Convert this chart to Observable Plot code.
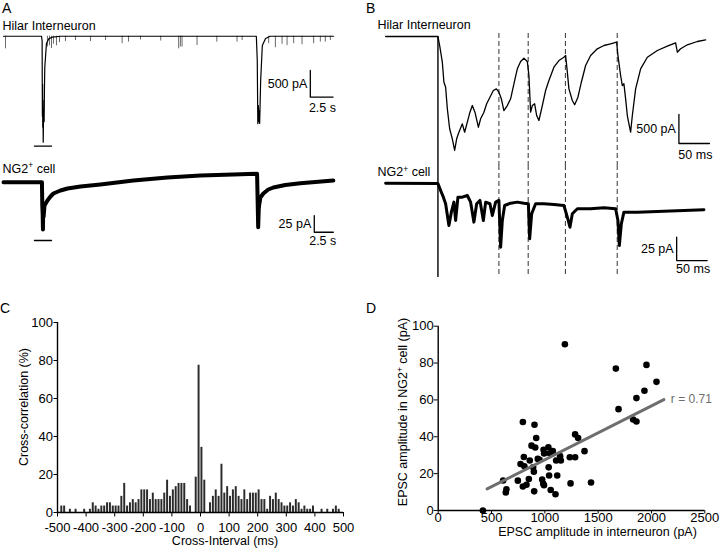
<!DOCTYPE html>
<html><head><meta charset="utf-8">
<script src="https://cdn.jsdelivr.net/npm/d3@7"></script>
<script src="https://cdn.jsdelivr.net/npm/@observablehq/plot@0.6"></script>
<style>
body{margin:0;background:#fff;}
#fig{position:relative;width:720px;height:548px;overflow:hidden;font-family:"Liberation Sans",Arial,Helvetica,sans-serif;color:#000;background:#fff;}
.t{position:absolute;white-space:nowrap;line-height:1;}
sup{font-size:0.68em;vertical-align:baseline;position:relative;top:-0.5em;}
</style></head><body><div id="fig"></div>
<script>
// ---------------- DATA ----------------
// Panel A: hilar interneuron trace [time s, current pA]
const aHilarTrace = [[0,0],[4.13,0],[4.2,-80],[4.23,-1500],[4.25,-900],[4.27,-1704],[4.29,-1200],[4.32,-1985],[4.35,-1550],[4.38,-1392],[4.42,-1600],[4.46,-900],[4.49,-581],[4.67,-142],[4.92,-49],[5.33,-15],[6.2,0],[27.5,0],[27.6,-455],[27.66,-1640],[27.72,-1300],[27.78,-1600],[27.82,-1392],[27.86,-1635],[27.97,-830],[28.15,-174],[28.5,-43],[29.0,0],[35.9,0]];
// spontaneous events on the hilar trace [time s, peak pA]
const aHilarEvents = [[0.22,-236],[4.78,-200],[5.0,-180],[5.22,-230],[5.43,-150],[5.76,-180],[6.09,-120],[6.74,-100],[7.83,-80],[9.46,-100],[11.1,-80],[12.9,-140],[13.6,-110],[14.9,-70],[17.1,-90],[19.05,-236],[19.24,-200],[19.42,-205],[21.05,-175],[23.2,-110],[25.4,-110],[25.95,-80],[28.84,-140],[29.57,-215],[30.3,-150],[30.84,-175],[31.56,-140],[32.47,-160],[33.73,-140],[34.46,-110],[35.0,-110],[35.55,-80]];
// Panel A: NG2+ cell trace [time s, current pA]
const aNG2Trace = [[0,0],[4.18,0],[4.22,-34.9],[4.26,-48],[4.29,-70.8],[4.31,-46.9],[4.36,-52],[4.46,-34.9],[4.78,-27.4],[5.11,-21.4],[5.43,-16.9],[6.2,-12.4],[6.96,-9.4],[8.37,-6.4],[10.54,-3.4],[14.13,2.5],[17.83,7.0],[21.41,10.0],[25.0,11.5],[27.58,12.6],[27.64,-27.4],[27.7,-67.4],[27.76,-40],[27.8,-34.9],[27.94,-22.9],[28.26,-16.9],[28.8,-10.9],[29.35,-7.9],[30.65,-4.2],[32.28,-1.5],[35.87,2.5]];
const aStimBar = [3.37, 5.22];          // s, bar under first event
const aScale = {pA_top: 500, pA_bottom: 25, s: 2.5};

// Panel B: hilar interneuron trace [time ms, current pA]
const bHilarTrace = [[-85.8,0],[0,0],[2.8,-155],[7.2,-443],[9.8,-788],[12.6,-874],[15.4,-1246],[19.2,-1591],[23.6,-1764],[27.4,-1965],[30.7,-1764],[34.4,-1650],[40.0,-1505],[43.8,-1650],[48.2,-1477],[52.5,-1305],[56.4,-1190],[60.7,-1305],[66.3,-1564],[70.0,-1419],[75.4,-1305],[79.9,-1160],[85.3,-1046],[90.9,-931],[95.8,-902],[100.0,-960],[104.0,-1074],[108.2,-1276],[113.8,-1190],[119.2,-1074],[124.6,-815],[130.2,-557],[135.6,-431],[141.0,-374],[146.6,-431],[149.2,-672],[152.0,-1305],[154.8,-1190],[158.6,-1160],[161.9,-1362],[165.6,-1448],[171.2,-1190],[176.6,-931],[182.0,-759],[190.2,-529],[198.4,-414],[206.6,-357],[209.4,-328],[212.2,-615],[214.8,-902],[220.4,-1103],[224.2,-1177],[229.6,-1046],[235.2,-788],[242.2,-500],[250.4,-328],[261.4,-212],[272.2,-155],[283.2,-126],[293.1,-98],[295.2,-328],[299.6,-672],[302.4,-845],[305.0,-815],[307.8,-1074],[310.6,-1362],[313.2,-1505],[316.0,-1650],[318.8,-1362],[324.2,-902],[332.4,-557],[343.4,-357],[359.8,-241],[376.2,-167],[389.8,-109],[392.6,-271],[398.0,-212],[409.0,-143],[425.4,-86],[439.0,-57]];
// Panel B: NG2+ cell trace [time ms, current pA]
const bNG2Trace = [[-85.8,0],[0,-0.3],[4.4,-7.8],[8.9,-15.0],[12.6,-22.0],[18.0,-45.3],[22.0,-31.0],[26.2,-20.3],[29.0,-39.9],[32.8,-15.0],[40.0,-15.0],[48.2,-13.2],[53.6,-20.3],[59.0,-41.7],[63.5,-22.0],[68.9,-18.5],[74.5,-39.9],[78.2,-20.3],[85.3,-22.0],[89.2,-34.6],[94.6,-20.3],[100.0,-18.5],[102.8,-68.5],[105.6,-39.9],[109.4,-23.9],[119.2,-21.4],[130.2,-20.3],[141.0,-21.4],[148.3,-22.0],[150.4,-59.5],[153.7,-32.7],[160.2,-22.0],[173.8,-22.0],[190.2,-22.8],[206.6,-23.9],[212.2,-36.4],[216.5,-47.1],[220.4,-32.7],[228.6,-27.4],[250.4,-27.4],[272.2,-26.3],[291.4,-27.4],[295.2,-39.9],[297.5,-66.7],[300.8,-43.4],[305.0,-31.0],[327.0,-31.0],[370.6,-30.0],[403.4,-29.2],[436.2,-28.5]];
const bMarkers = [100, 148, 209, 294];   // ms, dashed lines
const bScale = {pA_top: 500, pA_bottom: 25, ms: 50};

// Panel C: cross-correlogram, 10 ms bins from -500 to 500 (%)
const ccStart = -500, ccBinWidth = 10;
const ccValues = [0,3.4,3.4,0,1.7,0,1.7,0,0,1.7, 0,1.7,5.1,3.4,1.7,3.4,3.4,5.1,5.1,3.4, 3.4,3.4,8.5,15.3,3.4,5.1,6.8,5.1,6.8,11.9, 11.9,11.9,6.8,10.2,6.8,6.8,6.8,10.2,17,8.5, 11.9,13.6,15.3,15.3,15.3,6.8,3.4,0,18.6,77.5, 34.3,17,0,5.1,8.5,11.9,8.5,25.4,10.2,13.6, 8.5,11.9,13.6,8.5,6.8,11.9,6.8,10.2,10.2,10.2, 11.9,6.8,6.8,1.7,8.5,6.8,10.2,6.8,5.1,3.4, 3.4,5.1,3.4,6.8,5.1,1.7,3.4,1.7,1.7,3.4, 0,0,1.7,0,1.7,0,1.7,3.4,1.7,0];
const ccXTicks = [-500,-400,-300,-200,-100,0,100,200,300,400,500];
const ccYTicks = [0,20,40,60,80,100];

// Panel D: EPSC amplitudes
const interneuronAmp = [419,609,634,640,747,772,794,794,803,808,828,850,859,875,890,897,900,903,910,919,934,950,975,985,988,992,993,1033,1036,1040,1046,1055,1075,1100,1106,1116,1143,1150,1188,1234,1241,1284,1284,1312,1372,1433,1666,1691,1828,1859,1859,1934,1953,2047];
const ng2Amp =        [0,16.3,9.8,11.5,16.2,25.2,13,48,29,24,14,17.1,27.1,35.2,23.4,21,10.4,46.5,34.2,39.3,28,27.5,16.8,14.5,32.9,13.7,30.9,34.3,23.4,19,31.1,11.1,32.3,8.8,27.1,19,29.5,27.1,90.2,28.9,14.7,28.9,41.3,39.3,32.2,15.2,77,55,49.4,48.3,61,65,79,69.8];
const fitX = [459, 2116], fitY = [11.7, 60.2];
const rValue = 0.71;
const dXTicks = [0,500,1000,1500,2000,2500];
const dYTicks = [0,20,40,60,80,100];

// ---------------- RENDER ----------------
const FONT = '"Liberation Sans", Arial, Helvetica, sans-serif';
const fig = document.getElementById("fig");
const baseStyle = {fontFamily: FONT, fontSize: "12.5px", color: "black", background: "transparent", overflow: "visible"};
function place(svg, left, top) {
  svg.style.position = "absolute"; svg.style.left = left + "px"; svg.style.top = top + "px";
  fig.appendChild(svg);
}
function label(html, left, top, size, extra) {
  const d = document.createElement("div");
  d.className = "t"; d.innerHTML = html;
  d.style.left = left + "px"; d.style.top = top + "px"; d.style.fontSize = size + "px";
  if (extra) Object.assign(d.style, extra);
  fig.appendChild(d);
}
const X = d => d[0], Y = d => d[1];

function scaleBar(t, I, dt, dI, vText, hText, hdy) {
  const pts = [[t, I], [t, I - dI], [t + dt, I - dI]];
  return [
    Plot.line(pts, {x: X, y: Y, stroke: "black", strokeWidth: 1.3}),
    Plot.text([{x: t, y: I - dI / 2, s: vText}], {x: "x", y: "y", text: "s", textAnchor: "end", dx: -3, fill: "black"}),
    Plot.text([{x: t + dt, y: I - dI, s: hText}], {x: "x", y: "y", text: "s", textAnchor: "end", dx: 3, dy: hdy, fill: "black"})
  ];
}
function tracePlot(o) {
  const svg = Plot.plot({
    width: o.width, height: o.height, marginLeft: o.ml || 0, marginRight: o.mr || 0, marginTop: 0, marginBottom: 0,
    x: {domain: o.x, axis: null}, y: {domain: o.y, axis: null},
    style: baseStyle, marks: o.marks
  });
  place(svg, o.left, o.top);
}

// Panel A top
tracePlot({left: 0, top: 0, width: 360, height: 155, ml: 3, mr: 26, x: [0, 36], y: [-2235, 670], marks: [
  Plot.ruleX(aHilarEvents, {x: X, y1: 0, y2: Y, stroke: "#444", strokeWidth: 0.8}),
  Plot.line(aHilarTrace, {x: X, y: Y, stroke: "black", strokeWidth: 1.2}),
  Plot.line(aStimBar.map(t => [t, -2060]), {x: X, y: Y, stroke: "black", strokeWidth: 1.4}),
  ...scaleBar(33.37, -642, 2.47, aScale.pA_top, aScale.pA_top + " pA", aScale.s + " s", 10.5)
]});
// Panel A bottom
tracePlot({left: 0, top: 155, width: 360, height: 105, ml: 3, mr: 26, x: [0, 36], y: [-117.2, 40], marks: [
  Plot.line(aNG2Trace, {x: X, y: Y, stroke: "black", strokeWidth: 4, strokeLinejoin: "round"}),
  Plot.line(aStimBar.map(t => [t, -87.3]), {x: X, y: Y, stroke: "black", strokeWidth: 1.4}),
  ...scaleBar(33.8, -49.9, 2.07, aScale.pA_bottom, aScale.pA_bottom + " pA", aScale.s + " s", 9)
]});
// Panel B top
tracePlot({left: 360, top: 0, width: 360, height: 165, x: [-127, 463.4], y: [-2224, 621], marks: [
  Plot.ruleX(bMarkers, {y1: 52, y2: -2224, stroke: "#333", strokeWidth: 1, strokeDasharray: "5,3"}),
  Plot.ruleX([0], {y1: 0, y2: -2224, stroke: "black", strokeWidth: 1.4}),
  Plot.line(bHilarTrace, {x: X, y: Y, stroke: "black", strokeWidth: 1.3}),
  ...scaleBar(395.2, -1345, bScale.ms, bScale.pA_top, bScale.pA_top + " pA", bScale.ms + " ms", 11)
]});
// Panel B bottom
tracePlot({left: 360, top: 165, width: 360, height: 120, x: [-127, 463.4], y: [-109.5, 18.9], marks: [
  Plot.ruleX(bMarkers, {y1: 18.9, y2: -100.9, stroke: "#333", strokeWidth: 1, strokeDasharray: "5,3"}),
  Plot.ruleX([0], {y1: 18.9, y2: -100.9, stroke: "black", strokeWidth: 1.4}),
  Plot.line(bNG2Trace, {x: X, y: Y, stroke: "black", strokeWidth: 3, strokeLinejoin: "round"}),
  ...scaleBar(391.5, -57.8, bScale.ms, bScale.pA_bottom, bScale.pA_bottom + " pA", bScale.ms + " ms", 8.5)
]});

// Panel C
const ccData = ccValues.map((v, i) => ({x1: ccStart + i * ccBinWidth, x2: ccStart + (i + 1) * ccBinWidth, v}));
place(Plot.plot({
  width: 360, height: 248, marginLeft: 57, marginRight: 17, marginTop: 22, marginBottom: 36,
  style: {...baseStyle, fontSize: "13px"},
  x: {domain: [-500, 500], ticks: ccXTicks, tickFormat: d => String(d), tickSize: 4.5, tickPadding: 5.5, label: null},
  y: {domain: [0, 100], ticks: ccYTicks, tickFormat: d => String(d), tickSize: 3.5, tickPadding: 1, label: null},
  marks: [
    Plot.rectY(ccData, {x1: "x1", x2: "x2", y: "v", fill: "#2b2b2b", insetLeft: 0.45, insetRight: 0.45}),
    Plot.ruleY([0], {x1: -500, x2: 500, stroke: "black", strokeWidth: 1.4}),
    Plot.ruleX([-500], {y1: 0, y2: 100, stroke: "black", strokeWidth: 1.4})
  ]
}), 0, 300);

// Panel D
const scatter = interneuronAmp.map((x, i) => ({x, y: ng2Amp[i]}));
const fit = fitX.map((x, i) => ({x, y: fitY[i]}));
place(Plot.plot({
  width: 360, height: 248, marginLeft: 77.7, marginRight: 15.7, marginTop: 25.7, marginBottom: 38,
  style: {...baseStyle, fontSize: "13px"},
  x: {domain: [0, 2500], ticks: dXTicks, tickFormat: d => String(d), tickSize: 3.5, tickPadding: -1.5, label: null},
  y: {domain: [0, 100], ticks: dYTicks, tickFormat: d => String(d), tickSize: 4, tickPadding: 0.5, label: null},
  marks: [
    Plot.ruleY([0], {x1: 0, x2: 2500, stroke: "black", strokeWidth: 1.4}),
    Plot.ruleX([0], {y1: 0, y2: 100, stroke: "black", strokeWidth: 1.4}),
    Plot.dot(scatter, {x: "x", y: "y", r: 3.3, fill: "black"}),
    Plot.line(fit, {x: "x", y: "y", stroke: "#6e6e6e", strokeWidth: 3}),
    Plot.text([{x: fitX[1], y: fitY[1], s: "r = " + rValue}], {x: "x", y: "y", text: "s", textAnchor: "start", dx: 7, fill: "#6e6e6e", fontSize: 12})
  ]
}), 360, 300);

// Text labels
label("A", 2, 0.9, 14);
label("B", 366, 0.9, 14);
label("C", 0, 301.2, 14);
label("D", 366, 301.2, 14);
label("Hilar Interneuron", 2.5, 20.1, 12.5);
label("Hilar Interneuron", 377.5, 18.7, 12.5);
label("NG2<sup>+</sup> cell", 2.5, 162.7, 12.5);
label("NG2<sup>+</sup> cell", 377.5, 166.1, 12.5);
label("Cross-Interval (ms)", 225, 535, 12.5, {transform: "translateX(-50%)"});
label("EPSC amplitude in interneuron (pA)", 597.5, 525.5, 12.5, {transform: "translateX(-50%)"});
label("Cross-correlation (%)", 23.5, 406.7, 12.5, {transform: "translate(-50%,-50%) rotate(-90deg)"});
label("EPSC amplitude in NG2<sup>+</sup> cell (pA)", 402.5, 411.5, 12.5, {transform: "translate(-50%,-50%) rotate(-90deg)"});
</script></body></html>
